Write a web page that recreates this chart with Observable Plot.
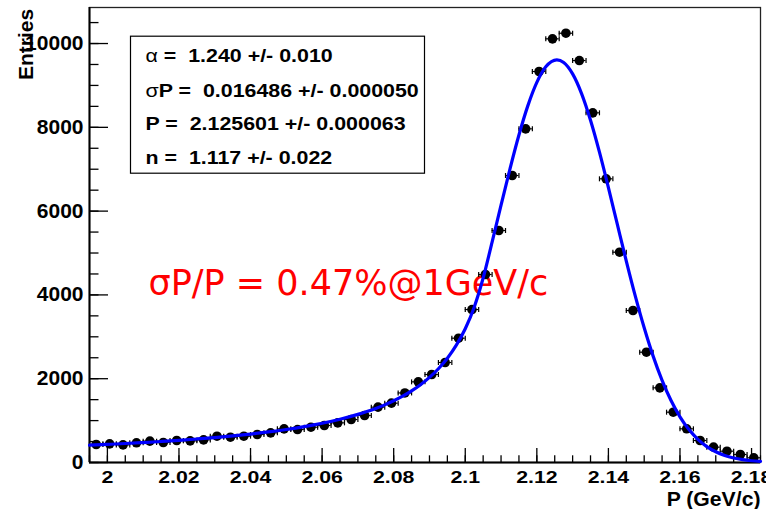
<!DOCTYPE html>
<html><head><meta charset="utf-8">
<script src="https://cdn.jsdelivr.net/npm/d3@7"></script>
<script src="https://cdn.jsdelivr.net/npm/@observablehq/plot@0.6"></script>
<style>
html,body{margin:0;padding:0;background:#fff;}
svg text{white-space:pre;}
</style></head>
<body><div id="chart"></div>
<script>
// ---- data ----
const binCenters = [1.996875,2.000625,2.004375,2.008125,2.011875,2.015625,2.019375,2.023125,2.026875,2.030625,
  2.034375,2.038125,2.041875,2.045625,2.049375,2.053125,2.056875,2.060625,2.064375,2.068125,
  2.071875,2.075625,2.079375,2.083125,2.086875,2.090625,2.094375,2.098125,2.101875,2.105625,
  2.109375,2.113125,2.116875,2.120625,2.124375,2.128125,2.131875,2.135625,2.139375,2.143125,
  2.146875,2.150625,2.154375,2.158125,2.161875,2.165625,2.169375,2.173125,2.176875,2.180625];
const entries = [430,445,420,470,510,477,525,517,540,628,
  604,628,668,708,803,787,843,883,946,1026,
  1122,1321,1416,1660,1925,2100,2387,2967,3651,4487,
  5537,6850,7964,9332,10112,10246,9594,8346,6771,5020,
  3628,2633,1782,1201,804,525,366,270,191,112];
const binHalfWidth = 0.001875;

const fitP = [1.995,2.000,2.005,2.010,2.015,2.020,2.025,2.030,2.035,2.040,
  2.045,2.050,2.055,2.060,2.065,2.070,2.0725,2.075,2.0775,2.080,2.0825,2.085,2.0875,2.090,2.0925,2.095,2.0975,2.100,
  2.1025,2.105,2.1075,2.110,2.1125,2.115,2.1175,2.120,2.1225,2.1256,2.1275,2.130,2.1325,2.135,2.1375,2.140,2.1425,2.145,2.1475,2.150,
  2.1525,2.155,2.1575,2.160,2.1625,2.165,2.1675,2.170,2.1725,2.175,2.1775,2.180,2.1825];
const fitEntries = [413,432,453,476,501,529,561,595,635,679,
  730,788,856,936,1032,1148,1216,1291,1376,1473,1583,1710,1857,2031,2238,2489,2800,3193,
  3707,4403,5260,6142,7009,7816,8518,9072,9443,9611,9547,9275,8805,8168,7407,6562,5683,4809,3977,3215,
  2539,1960,1478,1090,785,553,380,256,168,108,68,42,25];

const xDomain = [1.995, 2.1825];
const yDomain = [0, 10860];
const xMajorTicks = [2, 2.02, 2.04, 2.06, 2.08, 2.1, 2.12, 2.14, 2.16, 2.18];
const xTickLabels = ["2","2.02","2.04","2.06","2.08","2.1","2.12","2.14","2.16","2.18"];
const yMajorTicks = [0, 2000, 4000, 6000, 8000, 10000];
const yTickLabels = ["0","2000","4000","6000","8000","10000"];
const xMinorTicks = d3.range(0, 38).map(i => 1.995 + i * 0.005);
const yMinorTicks = d3.range(0, 22).map(i => i * 500);

const statNames = ["α", "σP", "P", "n"];
const statValues = ["1.240", "0.016486", "2.125601", "1.117"];
const statErrors = ["0.010", "0.000050", "0.000063", "0.022"];
const resolutionText = "σP/P = 0.47%@1GeV/c";
const xTitle = "P (GeV/c)";
const yTitle = "Entries";

// ---- build ----
const points = binCenters.map((x, i) => ({x, n: entries[i]}));
const fit = fitP.map((x, i) => ({x, n: fitEntries[i]}));
const capSymbol = {draw(ctx, size) { const r = Math.sqrt(size / Math.PI); ctx.moveTo(0, -r); ctx.lineTo(0, r); }};
const statLines = statNames.map((s, i) => `${s} =  ${statValues[i]} +/- ${statErrors[i]}`);
const statDy = [48.8, 83.3, 117, 150.5];
const F = "'Liberation Sans', Arial, Helvetica, sans-serif";

const svg = Plot.plot({
  width: 766, height: 509,
  marginLeft: 89, marginRight: 6, marginTop: 7, marginBottom: 47,
  style: {fontFamily: F, background: "white", overflow: "visible"},
  x: {domain: xDomain, axis: null},
  y: {domain: yDomain, axis: null},
  marks: [
    Plot.frame({stroke: "#222", strokeWidth: 1.3}),
    Plot.ruleX([xDomain[0]], {stroke: "black", strokeWidth: 2}),
    Plot.ruleY([yDomain[0]], {stroke: "black", strokeWidth: 2}),
    Plot.axisY({ticks: yMinorTicks, tickSize: -9.5, tickFormat: () => "", label: null, strokeWidth: 1.3}),
    Plot.axisY({ticks: yMajorTicks, tickSize: -19, tickFormat: () => "", label: null, strokeWidth: 1.3}),
    Plot.axisY({ticks: yMajorTicks, tickSize: 0, tickPadding: 6, label: null,
      tickFormat: d => yTickLabels[yMajorTicks.indexOf(d)], fontSize: 20, fontWeight: "bold", fill: "black"}),
    Plot.axisX({ticks: xMinorTicks, tickSize: -6.7, tickFormat: () => "", label: null, strokeWidth: 1.3}),
    Plot.axisX({ticks: xMajorTicks, tickSize: -14, tickFormat: () => "", label: null, strokeWidth: 1.3}),
    Plot.axisX({ticks: xMajorTicks, tickSize: 0, tickPadding: 9.5, label: null,
      tickFormat: d => xTickLabels[xMajorTicks.indexOf(d)], fontSize: 16, fontWeight: "bold", fill: "black"}),
    Plot.text([xTitle], {frameAnchor: "bottom-right", textAnchor: "end", lineAnchor: "top", dy: 29.7,
      fontSize: 20, fontWeight: "bold", fill: "black"}),
    Plot.text([yTitle], {frameAnchor: "top-left", textAnchor: "end", lineAnchor: "middle", rotate: -90,
      dx: -63.5, dy: 1.3, fontSize: 21, fontWeight: "bold", fill: "black"}),
    // stats box
    Plot.frame({insetLeft: 41, insetTop: 28.7, insetRight: 336, insetBottom: 289.3, stroke: "black", strokeWidth: 1.2, fill: "white"}),
    ...statLines.map((line, i) => Plot.text([line], {frameAnchor: "top-left", textAnchor: "start", lineAnchor: "middle",
      dx: 56, dy: statDy[i], fontSize: 18.3, fontWeight: "bold", fill: "black"})),
    // annotation
    Plot.text([resolutionText], {frameAnchor: "top-left", textAnchor: "start", lineAnchor: "middle",
      dx: 59, dy: 276, fontSize: 35, fontFamily: "'DejaVu Sans', sans-serif", fill: "#ff0000"}),
    // data points
    Plot.ruleY(points, {y: "n", x1: d => d.x - binHalfWidth, x2: d => d.x + binHalfWidth, stroke: "black", strokeWidth: 1.2}),
    Plot.dot(points, {x: d => d.x - binHalfWidth, y: "n", symbol: capSymbol, r: 2.5, stroke: "black", strokeWidth: 1.2}),
    Plot.dot(points, {x: d => d.x + binHalfWidth, y: "n", symbol: capSymbol, r: 2.5, stroke: "black", strokeWidth: 1.2}),
    Plot.dot(points, {x: "x", y: "n", r: 4.8, fill: "black", stroke: "none"}),
    // fit
    Plot.line(fit, {x: "x", y: "n", stroke: "#0000ff", strokeWidth: 3.2, curve: "monotone-x"})
  ]
});
document.getElementById("chart").append(svg);

const XMLNS = "http://www.w3.org/XML/1998/namespace";
const SVGNS = "http://www.w3.org/2000/svg";
const allTexts = Array.from(svg.querySelectorAll("text"));
allTexts.forEach(t => t.setAttributeNS(XMLNS, "xml:space", "preserve"));

function stretchEl(t, f) {
  const L = t.getComputedTextLength();
  if (L > 0) { t.setAttribute("textLength", L * f); t.setAttribute("lengthAdjust", "spacingAndGlyphs"); }
}

allTexts.forEach(t => {
  const s = t.textContent;
  if (statLines.includes(s)) {
    if (s[0] === "α" || s[0] === "σ") {
      t.textContent = "";
      const a = document.createElementNS(SVGNS, "tspan");
      a.setAttribute("font-weight", "normal");
      a.textContent = s[0];
      const b = document.createElementNS(SVGNS, "tspan");
      b.textContent = s.slice(1);
      t.append(a, b);
    }
    stretchEl(t, 1.17);
  } else if (xTickLabels.includes(s) && t.closest("g") && t.getAttribute("text-anchor") !== "end" &&
             !(t.parentNode && t.parentNode.getAttribute("text-anchor") === "end")) {
    stretchEl(t, 1.33);
  } else if (yTickLabels.includes(s) && s !== "") {
    stretchEl(t, 1.05);
  } else if (s === xTitle) {
    stretchEl(t, 1.06);
  }
});
</script>
</body></html>
